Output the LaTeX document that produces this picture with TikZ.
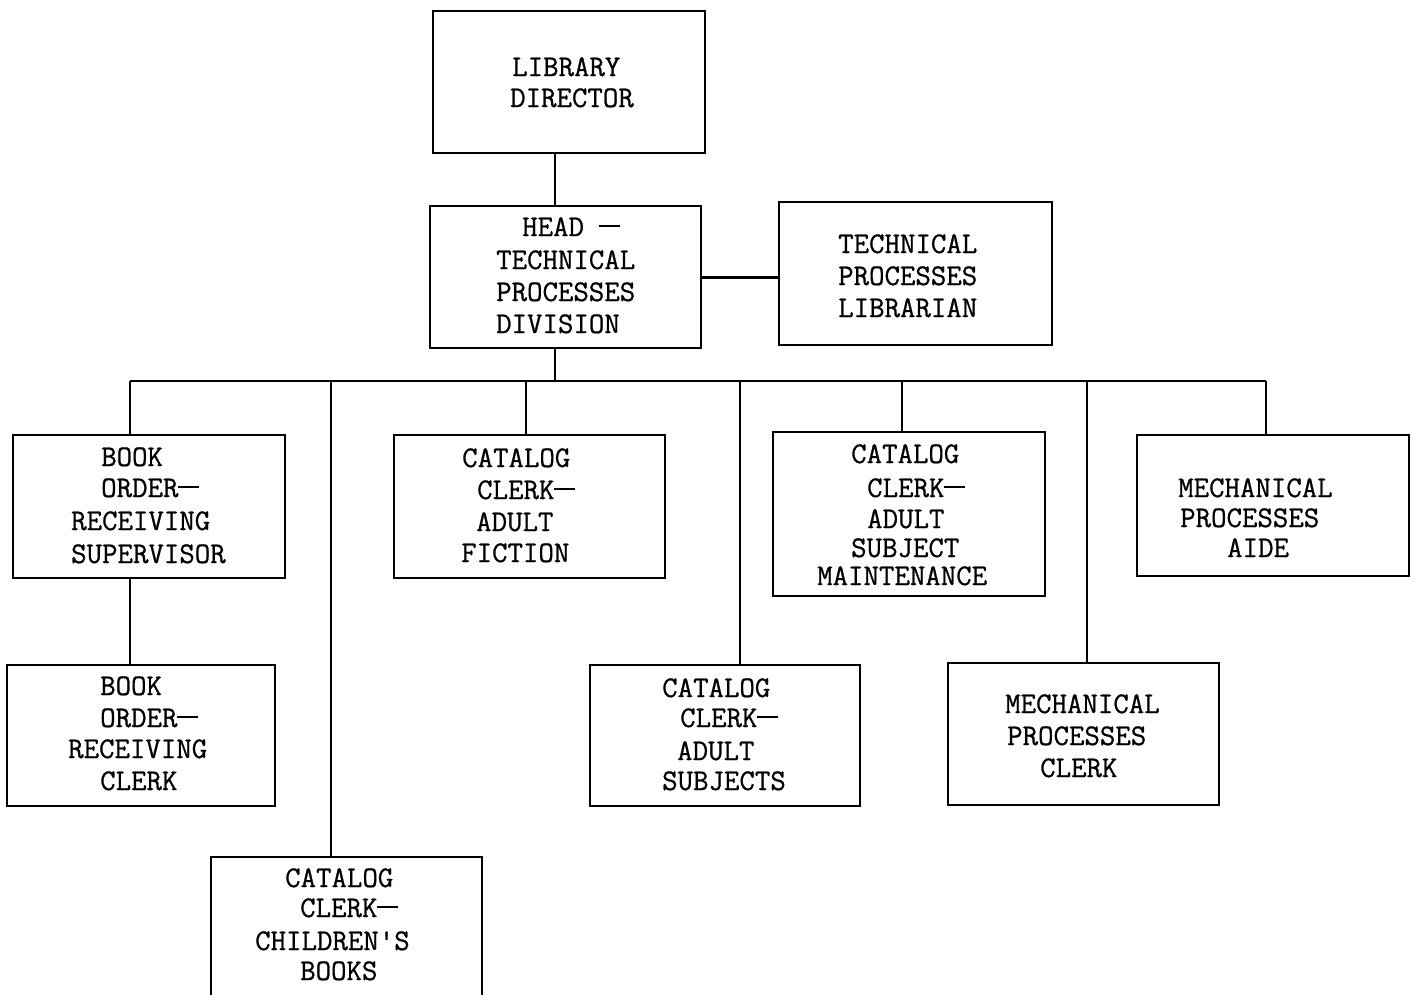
\documentclass[tikz,border=0pt]{standalone}
\usepackage{fontspec}
\newfontfamily\tw{Latin Modern Mono}[FakeBold=0.8]
\newcommand\tdash{\kern-0.03em\rule[0.29em]{0.72em}{2pt}}
\begin{document}
\begin{tikzpicture}[x=1pt,y=-1pt,
  box/.style={draw, line width=2pt, rectangle, inner sep=0pt, outer sep=0pt, anchor=north west},
  tl/.style={anchor=base west, inner sep=0pt, font=\tw\fontsize{30}{32}\selectfont},
  link/.style={line width=2.2pt}]
\clip (0,0) rectangle (1415,994);
\fill[white] (0,0) rectangle (1415,994);
% boxes
\node[box, minimum width=272pt, minimum height=142pt] (ld) at (433,11) {};
\node[box, minimum width=271pt, minimum height=142pt] (head) at (430,206) {};
\node[box, minimum width=273pt, minimum height=143pt] (tpl) at (779,202) {};
\node[box, minimum width=272pt, minimum height=143pt] (bos) at (13,435) {};
\node[box, minimum width=271pt, minimum height=143pt] (caf) at (394,435) {};
\node[box, minimum width=272pt, minimum height=164pt] (casm) at (773,432) {};
\node[box, minimum width=272pt, minimum height=141pt] (mpa) at (1137,435) {};
\node[box, minimum width=268pt, minimum height=141pt] (boc) at (7,665) {};
\node[box, minimum width=270pt, minimum height=141pt] (cas) at (590,665) {};
\node[box, minimum width=271pt, minimum height=142pt] (mpc) at (948,663) {};
\node[box, minimum width=271pt, minimum height=160pt] (ccb) at (211,857) {};
% texts
\node[tl] (ld1) at (512,76) {LIBRARY};
\node[tl] (ld2) at (510,107) {DIRECTOR};
\node[tl] (hd1) at (522,236) {HEAD \tdash};
\node[tl] (hd2) at (496,269) {TECHNICAL};
\node[tl] (hd3) at (496,301) {PROCESSES};
\node[tl] (hd4) at (496,333) {DIVISION};
\node[tl] (tp1) at (838,253) {TECHNICAL};
\node[tl] (tp2) at (838,285) {PROCESSES};
\node[tl] (tp3) at (838,317) {LIBRARIAN};
\node[tl] (bs1) at (101,466) {BOOK};
\node[tl] (bs2) at (101,497) {ORDER\tdash};
\node[tl] (bs3) at (71,530) {RECEIVING};
\node[tl] (bs4) at (71,563) {SUPERVISOR};
\node[tl] (cf1) at (462,467) {CATALOG};
\node[tl] (cf2) at (477,499) {CLERK\tdash};
\node[tl] (cf3) at (476,531) {ADULT};
\node[tl] (cf4) at (461,562) {FICTION};
\node[tl] (cm1) at (851,463) {CATALOG};
\node[tl] (cm2) at (867,497) {CLERK\tdash};
\node[tl] (cm3) at (867,528) {ADULT};
\node[tl] (cm4) at (851,557) {SUBJECT};
\node[tl] (cm5) at (817,585) {MAINTENANCE};
\node[tl] (ma1) at (1178,497) {MECHANICAL};
\node[tl] (ma2) at (1180,527) {PROCESSES};
\node[tl] (ma3) at (1227,557) {AIDE};
\node[tl] (bc1) at (100,695) {BOOK};
\node[tl] (bc2) at (100,727) {ORDER\tdash};
\node[tl] (bc3) at (68,758) {RECEIVING};
\node[tl] (bc4) at (100,790) {CLERK};
\node[tl] (cs1) at (662,697) {CATALOG};
\node[tl] (cs2) at (680,727) {CLERK\tdash};
\node[tl] (cs3) at (677,760) {ADULT};
\node[tl] (cs4) at (662,790) {SUBJECTS};
\node[tl] (mc1) at (1005,713) {MECHANICAL};
\node[tl] (mc2) at (1007,745) {PROCESSES};
\node[tl] (mc3) at (1040,777) {CLERK};
\node[tl] (cb1) at (285,887) {CATALOG};
\node[tl] (cb2) at (300,917) {CLERK\tdash};
\node[tl] (cb3) at (255,950) {CHILDREN\textquotesingle S};
\node[tl] (cb4) at (300,980) {BOOKS};
% bus coordinates
\coordinate (b0) at (555,381);
\coordinate (b1) at (130,381);
\coordinate (b2) at (331,381);
\coordinate (b3) at (526,381);
\coordinate (b4) at (740,381);
\coordinate (b5) at (902,381);
\coordinate (b6) at (1087,381);
\coordinate (b7) at (1266,381);
\coordinate (hy) at (0,277);
% connectors
\draw[link] (ld.south -| b0) -- (head.north -| b0);
\draw[line width=3pt] (head.east |- hy) -- (tpl.west |- hy);
\draw[link] (head.south -| b0) -- (b0);
\draw[link] (b1) -- (b7);
\draw[link] (b1) -- (bos.north -| b1);
\draw[link] (b2) -- (ccb.north -| b2);
\draw[link] (b3) -- (caf.north -| b3);
\draw[link] (b4) -- (cas.north -| b4);
\draw[link] (b5) -- (casm.north -| b5);
\draw[link] (b6) -- (mpc.north -| b6);
\draw[link] (b7) -- (mpa.north -| b7);
\draw[link] (bos.south -| b1) -- (boc.north -| b1);
\end{tikzpicture}
\end{document}
